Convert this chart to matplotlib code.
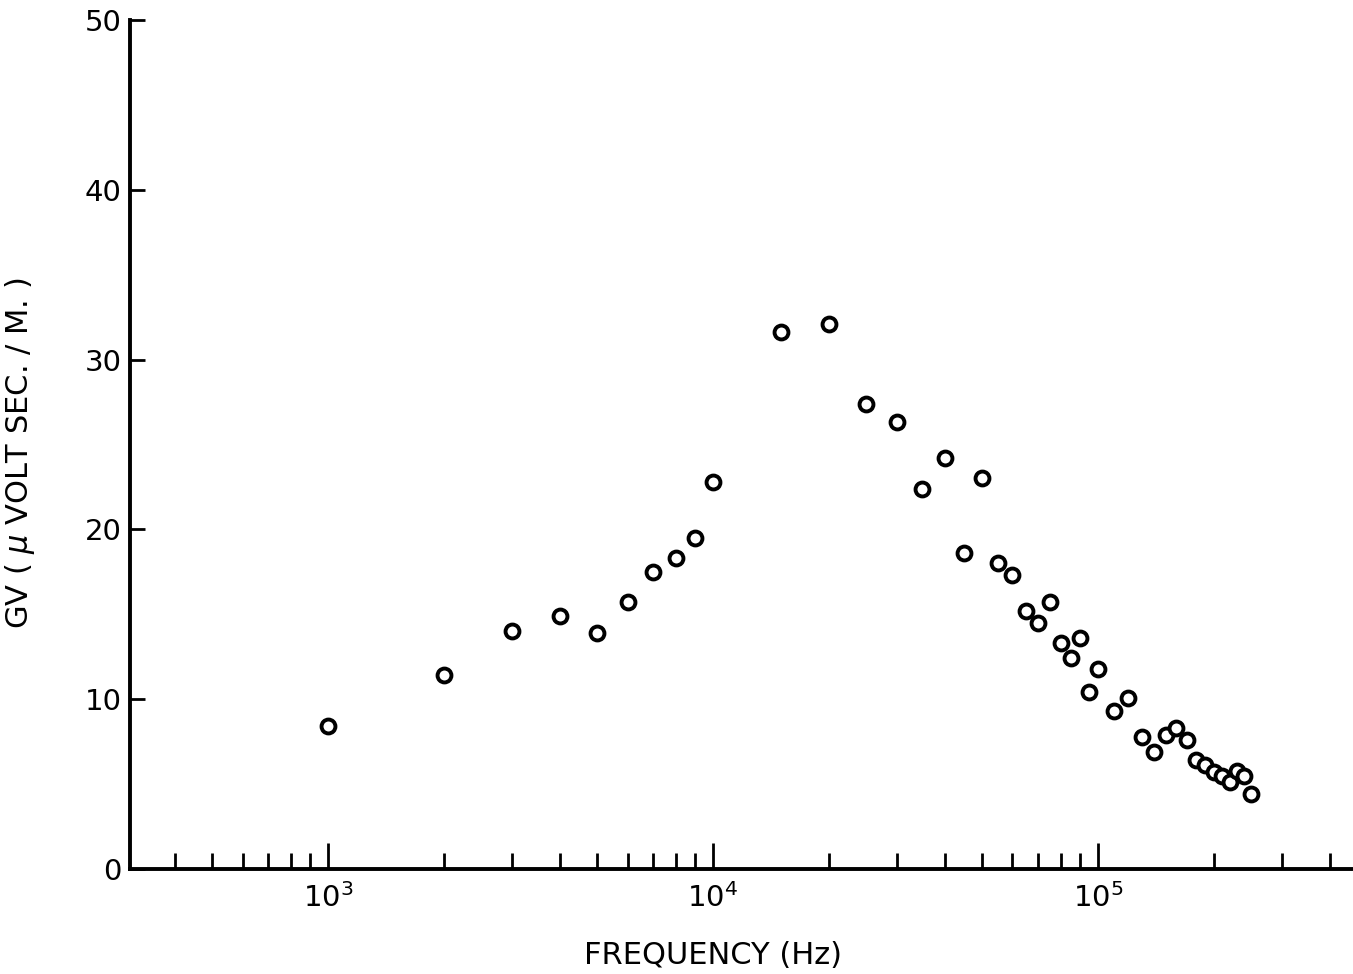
import matplotlib
matplotlib.use("Agg")
import matplotlib.pyplot as plt
from matplotlib.ticker import LogLocator, FixedLocator, NullFormatter

# frequency (Hz) and GV (micro volt sec / m)
freq = [1000, 2000, 3000, 4000, 5000, 6000, 7000, 8000, 9000, 10000,
        15000, 20000, 25000, 30000, 35000, 40000, 45000, 50000, 55000, 60000,
        65000, 70000, 75000, 80000, 85000, 90000, 95000, 100000,
        110000, 120000, 130000, 140000, 150000, 160000, 170000, 180000,
        190000, 200000, 210000, 220000, 230000, 240000, 250000]
gv = [8.4, 11.4, 14.0, 14.9, 13.9, 15.7, 17.5, 18.3, 19.5, 22.8,
      31.6, 32.1, 27.4, 26.3, 22.4, 24.2, 18.6, 23.0, 18.0, 17.3,
      15.2, 14.5, 15.7, 13.3, 12.4, 13.6, 10.4, 11.8,
      9.3, 10.1, 7.8, 6.9, 7.9, 8.3, 7.6, 6.4,
      6.1, 5.7, 5.5, 5.1, 5.8, 5.5, 4.4]

y_ticks = [0, 10, 20, 30, 40, 50]

fig = plt.figure(figsize=(13.53, 9.74), dpi=100)
ax = fig.add_axes([130 / 1353, 105 / 974, 1223 / 1353, 849 / 974])

ax.plot(freq, gv, linestyle="none", marker="o", markersize=10,
        markerfacecolor="white", markeredgecolor="black", markeredgewidth=2.8,
        clip_on=False)

ax.set_xscale("log")
ax.set_xlim(306, 4.6e5)
ax.set_ylim(0, 50)

for s in ["top", "right"]:
    ax.spines[s].set_visible(False)
for s in ["left", "bottom"]:
    ax.spines[s].set_linewidth(2.8)

ax.xaxis.set_major_locator(LogLocator(base=10, subs=(1.0,)))
ax.xaxis.set_minor_locator(LogLocator(base=10, subs=[2, 3, 4, 5, 6, 7, 8, 9]))
ax.xaxis.set_minor_formatter(NullFormatter())
ax.set_xticks([1e3, 1e4, 1e5])
ax.set_xticklabels([r"$10^3$", r"$10^4$", r"$10^5$"])
ax.yaxis.set_major_locator(FixedLocator(y_ticks))

ax.tick_params(axis="x", which="major", direction="in", length=19, width=2,
               labelsize=21, pad=10)
ax.tick_params(axis="x", which="minor", direction="in", length=11.5, width=2)
ax.tick_params(axis="y", which="major", direction="in", length=11, width=2,
               labelsize=21, pad=6)

ax.set_xlabel("FREQUENCY (Hz)", fontsize=22)
ax.xaxis.set_label_coords(0.477, -0.085)
ax.set_ylabel("GV ( $\\mu$ VOLT SEC. / M. )", fontsize=22)
ax.yaxis.set_label_coords(-0.076, 0.49)

fig.savefig("out.png", dpi=100, facecolor="white")
